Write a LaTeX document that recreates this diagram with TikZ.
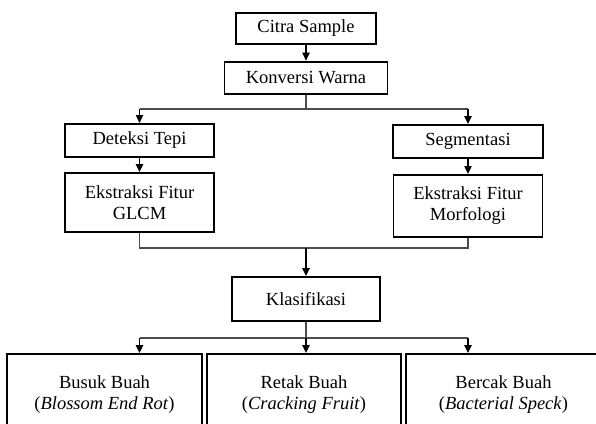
\documentclass[tikz,border=0pt]{standalone}
\usepackage{fontspec}
\setmainfont{Liberation Serif}
\usetikzlibrary{arrows.meta}

\tikzset{
	box/.style={draw, line width=0.9pt, align=center, inner sep=0pt, font=\fontsize{9.25}{10.5}\selectfont},
	link/.style={line width=0.6pt, draw=black!70},
	flow/.style={line width=0.8pt, -{Triangle[length=4pt,width=3.6pt]}}
}

\begin{document}
\begin{tikzpicture}[x=0.5pt, y=-0.5pt]
	\clip (0,0) rectangle (596,424);
	
	% Draw the top boxes
	\node[box, minimum width=70pt, minimum height=15.6pt] (citra) at (306,28.3) {Citra Sample};
	\node[box, minimum width=81.5pt, minimum height=16.2pt] (konversi) at (306,77.8) {Konversi Warna};
	
	% Draw the two branches
	\node[box, minimum width=74.5pt, minimum height=16.4pt] (deteksi) at (139.5,140.3) {Deteksi Tepi};
	\node[box, minimum width=74.5pt, minimum height=29.5pt] (glcm) at (139.5,202.5) {Ekstraksi Fitur\\GLCM};
	\node[box, minimum width=75pt, minimum height=16.5pt] (segmentasi) at (468,141.5) {Segmentasi};
	\node[box, minimum width=74.5pt, minimum height=30.9pt] (morfologi) at (468,205.8) {Ekstraksi Fitur\\Morfologi};
	
	% Draw the classification box
	\node[box, minimum width=74pt, minimum height=22pt] (klasifikasi) at (306,299) {Klasifikasi};
	
	% Draw the result boxes
	\node[box, minimum width=97.5pt, minimum height=41pt] (busuk) at (104.5,395) {Busuk Buah\\(\textit{Blossom End Rot})};
	\node[box, minimum width=97pt, minimum height=41pt] (retak) at (304,395) {Retak Buah\\(\textit{Cracking Fruit})};
	\node[box, minimum width=97.5pt, minimum height=41pt] (bercak) at (503.5,395) {Bercak Buah\\(\textit{Bacterial Speck})};
	
	% Draw the connectors
	\coordinate (split1) at (306,109);
	\coordinate (merge) at (306,248);
	\coordinate (split2) at (306,338);
	\draw[flow] (citra) -- (konversi);
	\draw[link] (konversi) -- (split1);
	\draw[link] (split1 -| deteksi) -- (split1 -| segmentasi);
	\draw[flow] (split1 -| deteksi) -- (deteksi);
	\draw[flow] (split1 -| segmentasi) -- (segmentasi);
	\draw[flow] (deteksi) -- (glcm);
	\draw[flow] (segmentasi) -- (morfologi);
	\draw[link] (glcm) |- (merge) -| (morfologi);
	\draw[flow] (merge) -- (klasifikasi);
	\draw[link] (klasifikasi) -- (split2);
	\draw[link] (split2 -| glcm) -- (split2 -| morfologi);
	\draw[flow] (split2 -| glcm) -- (busuk.north -| glcm);
	\draw[flow] (split2) -- (retak.north -| split2);
	\draw[flow] (split2 -| morfologi) -- (bercak.north -| morfologi);
\end{tikzpicture}
\end{document}
